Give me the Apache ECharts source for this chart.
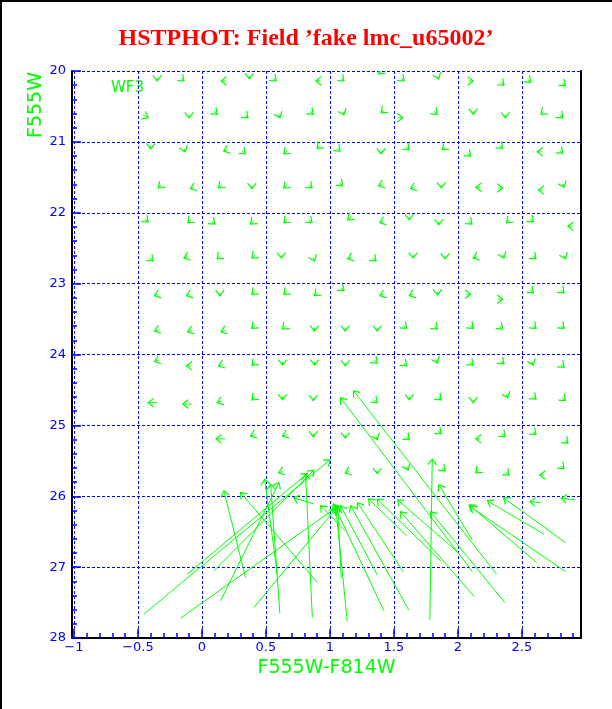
<!DOCTYPE html>
<html><head><meta charset="utf-8">
<script src="https://cdn.jsdelivr.net/npm/echarts@6/dist/echarts.min.js"></script>
<style>html,body{margin:0;padding:0;background:#fff}#c{width:612px;height:709px}</style>
</head><body><div id="c"></div>
<script>
const titleText = "HSTPHOT: Field \u2019fake lmc_u65002\u2019";
const xName = "F555W-F814W";
const yName = "F555W";
const chipLabel = "WF3";
const xMajorTicks = [-1, -0.5, 0, 0.5, 1, 1.5, 2, 2.5];
const xMinorTicks = [-0.9,-0.8,-0.7,-0.6,-0.4,-0.3,-0.2,-0.1,0.1,0.2,0.3,0.4,0.6,0.7,0.8,0.9,1.1,1.2,1.3,1.4,1.6,1.7,1.8,1.9,2.1,2.2,2.3,2.4,2.6,2.7,2.8,2.9];
const yTicks = [20, 21, 22, 23, 24, 25, 26, 27, 28];

// small vectors: position (tip), displacement (dx, dy) in data units
const smallX = [
 -0.35,-0.14,0.15,0.37,0.58,0.89,1.11,1.38,1.58,1.85,2.12,2.36,2.57,2.84,
 -0.42,-0.10,0.12,0.36,0.61,0.87,1.11,1.40,1.57,1.84,2.12,2.37,2.65,2.82,
 -0.40,-0.13,0.17,0.34,0.64,0.90,1.08,1.40,1.62,1.88,2.10,2.35,2.62,2.82,
 -0.34,-0.09,0.13,0.39,0.64,0.86,1.10,1.38,1.63,1.87,2.14,2.35,2.63,2.83,
 -0.42,-0.11,0.10,0.38,0.64,0.86,1.14,1.39,1.62,1.85,2.11,2.38,2.59,2.86,
 -0.38,-0.14,0.12,0.39,0.62,0.88,1.14,1.36,1.65,1.90,2.12,2.36,2.61,2.84,
 -0.37,-0.12,0.14,0.39,0.64,0.88,1.11,1.39,1.62,1.84,2.10,2.35,2.59,2.83,
 -0.37,-0.11,0.15,0.39,0.63,0.88,1.12,1.37,1.60,1.84,2.12,2.35,2.61,2.83,
 -0.37,-0.12,0.13,0.39,0.63,0.88,1.12,1.37,1.60,1.84,2.12,2.36,2.59,2.83,
 -0.42,-0.15,0.12,0.39,0.63,0.87,1.37,1.62,1.87,2.12,2.39,2.61,2.84,
 0.11,0.38,0.63,0.87,1.12,1.37,1.62,1.87,2.14,2.37,2.61,2.86,
 0.60,1.12,1.37,1.61,1.90,2.14,2.40,2.64,2.83
];
const smallY = [
 20.14,20.14,20.14,20.11,20.14,20.14,20.14,20.04,20.14,20.11,20.14,20.20,20.16,20.21,
 20.66,20.66,20.61,20.66,20.66,20.61,20.62,20.59,20.66,20.61,20.61,20.66,20.61,20.66,
 21.10,21.14,21.13,21.17,21.17,21.09,21.13,21.17,21.11,21.11,21.20,21.09,21.14,21.16,
 21.65,21.66,21.65,21.66,21.65,21.65,21.62,21.62,21.66,21.65,21.64,21.65,21.68,21.64,
 22.13,22.14,22.16,22.16,22.14,22.14,22.10,22.14,22.10,22.17,22.16,22.14,22.13,22.19,
 22.68,22.64,22.65,22.64,22.64,22.68,22.65,22.68,22.64,22.65,22.64,22.64,22.65,22.65,
 23.17,23.17,23.17,23.15,23.15,23.17,23.10,23.17,23.17,23.16,23.15,23.22,23.13,23.13,
 23.67,23.68,23.68,23.63,23.64,23.67,23.67,23.67,23.63,23.64,23.63,23.64,23.63,23.63,
 24.10,24.16,24.16,24.15,24.15,24.15,24.16,24.12,24.16,24.12,24.15,24.13,24.15,24.18,
 24.68,24.70,24.68,24.64,24.64,24.65,24.68,24.64,24.64,24.68,24.61,24.63,24.65,
 25.19,25.15,25.15,25.16,25.18,25.20,25.20,25.12,25.19,25.16,25.13,25.25,
 25.67,25.67,25.68,25.63,25.64,25.67,25.70,25.70,25.61
];
const smallDX = [
 0,0.025,-0.035,0,0.025,-0.035,0.025,-0.025,0.025,0.01,0.035,0.025,0.025,0.025,
 0.04,0,0.025,0.025,0.01,0.025,0.01,-0.025,0.035,0.025,0,0,-0.025,0.025,
 0,0.01,-0.03,0.025,-0.025,-0.025,0.025,0,0.025,-0.025,0.025,0.025,-0.035,0.025,
 -0.025,-0.03,-0.025,0,-0.025,0.025,0.025,-0.03,-0.03,0,-0.035,0.035,-0.035,0.01,
 0.025,-0.025,0.025,-0.025,-0.025,0.025,-0.025,-0.03,0,0,0.025,-0.025,0.025,-0.035,
 0.025,-0.03,-0.025,-0.025,0,0.01,-0.03,0.025,0,0,-0.03,0.01,0.025,0.01,
 -0.03,-0.03,0,-0.025,-0.025,-0.025,0.025,-0.03,-0.03,0,0.035,0.035,0.025,0.025,
 -0.03,-0.03,-0.03,-0.025,-0.025,0,0,0,0.025,0.025,0.025,0.025,0.025,0.025,
 -0.03,-0.035,-0.03,-0.025,0,0,0,0.025,0.025,0.01,0.025,0.025,0.01,0.025,
 -0.07,-0.07,-0.03,-0.025,0,0,0.025,0,0.025,0,0.01,0.025,0.025,
 -0.07,-0.03,-0.03,0,0,0.01,0.025,0.025,-0.035,0.025,0.025,0.025,
 -0.03,-0.03,0,0.01,0.025,-0.025,0.025,-0.035,0.025
];
const smallDY = [
 0.045,0.04,0,0.045,0.04,0,0.04,0.04,0.04,0.045,0,0.04,0.04,0.04,
 0.04,0.045,0.04,0.04,0.045,0.04,0.045,0.04,0,0.04,0.045,0.045,0.04,0.04,
 0.045,0.045,0.02,0.04,0.04,0.04,0.04,0.045,0.04,0.04,0.04,0.04,0,0.04,
 0.04,0.02,0.04,0.045,0.04,0.04,0.04,0.02,0.02,0.045,0,0,0,0.045,
 0.04,0.04,0.04,0.04,0.04,0.04,0.04,0.02,0.045,0.045,0.04,0.04,0.04,0,
 0.04,0.02,0.04,0.04,0.045,0.045,0.02,0.04,0.045,0.045,0.02,0.045,0.04,0.045,
 0.02,0.02,0.045,0.04,0.04,0.04,0.04,0.02,0.02,0.045,0,0,0.04,0.04,
 0.02,0.02,0.02,0.04,0.04,0.045,0.045,0.045,0.04,0.04,0.04,0.04,0.04,0.04,
 0.02,0,0.02,0.04,0.045,0.045,0.045,0.04,0.04,0.045,0.04,0.04,0.045,0.04,
 0,0,0.02,0.04,0.045,0.045,0.04,0.045,0.04,0.045,0.045,0.04,0.04,
 0,0.02,0.02,0.045,0.045,0.045,0.04,0.04,0,0.04,0.04,0.04,
 0.02,0.02,0.045,0.045,0.04,0.04,0.04,0,0.04
];

// long vectors: tail (x0,y0) -> tip (x1,y1)
const longX0 = [-0.453,-0.166,-0.114,0.094,0.146,0.341,0.902,0.609,0.863,0.406,0.589,0.873,2.113,2.302,1.781,1.136,1.089,1.422,1.617,1.370,1.573,1.599,2.005,2.130,2.367,2.615,2.672,2.841,2.841,2.646,2.920,2.113,1.865,1.120];
const longY0 = [27.663,27.719,27.099,27.052,27.475,27.147,27.217,27.649,27.711,27.570,27.099,26.107,27.062,27.099,27.748,27.767,27.147,27.616,27.607,27.109,27.062,26.558,26.798,27.419,27.499,26.935,26.535,26.653,27.062,26.089,26.051,26.619,26.911,26.488];
const longX1 = [1.000,1.068,0.823,0.875,0.602,0.172,0.302,0.537,0.810,1.045,0.490,0.716,1.084,1.185,1.800,1.045,1.061,1.029,1.162,1.084,1.216,1.302,1.529,1.552,1.787,2.088,2.232,2.357,2.098,2.563,2.808,1.852,1.370,0.927];
const longY1 = [25.487,26.135,25.680,25.632,25.807,25.924,25.948,25.829,25.688,26.178,25.759,26.023,24.612,24.513,25.477,26.135,26.164,26.107,26.135,26.135,26.093,26.037,26.051,26.220,26.220,26.121,26.065,26.023,26.148,26.075,26.027,25.839,26.041,26.135];

const GREEN = '#00ff00', BLUE = '#0000ff';
const smallData = smallX.map((x, i) => [x, smallY[i], smallDX[i], smallDY[i]]);
const longData = longX0.map((x, i) => [x, longY0[i], longX1[i], longY1[i]]);

function arrowShape(p0, p1) {
  let a = Math.atan2(p1[1] - p0[1], p1[0] - p0[0]);
  const L = 7, h = 38 * Math.PI / 180;
  const w1 = [p1[0] - L * Math.cos(a - h), p1[1] - L * Math.sin(a - h)];
  const w2 = [p1[0] - L * Math.cos(a + h), p1[1] - L * Math.sin(a + h)];
  return {
    type: 'group',
    children: [
      {type: 'line', shape: {x1: p0[0], y1: p0[1], x2: p1[0], y2: p1[1]}, style: {stroke: GREEN, lineWidth: 1}},
      {type: 'polyline', shape: {points: [w1, p1, w2]}, style: {stroke: GREEN, lineWidth: 1.2, fill: null}}
    ]
  };
}

const chart = echarts.init(document.getElementById('c'), null, {renderer: 'canvas'});
const option = {
  animation: false,
  backgroundColor: '#ffffff',
  title: {
    text: titleText, left: 'center', top: 22,
    textStyle: {fontFamily: 'Liberation Serif', fontWeight: 'bold', fontSize: 24, color: '#ff0000'}
  },
  grid: {left: 72, right: 31, top: 71, bottom: 71},
  xAxis: [
    {
      type: 'value', min: -1.015, max: 2.962, position: 'bottom',
      name: xName, nameLocation: 'middle', nameGap: 18,
      nameTextStyle: {color: GREEN, fontSize: 19, fontFamily: 'DejaVu Sans'},
      axisLine: {show: true, onZero: false, lineStyle: {color: '#000', width: 2}},
      axisTick: {show: true, inside: true, length: 9, customValues: xMajorTicks, lineStyle: {color: BLUE, width: 1.5}},
      axisLabel: {customValues: xMajorTicks, color: BLUE, fontSize: 13, fontFamily: 'DejaVu Sans', margin: 3,
        formatter: v => String(v).replace('-', '\u2212')},
      splitLine: {show: true, lineStyle: {color: BLUE, type: [3, 2], width: 1}}
    },
    {
      type: 'value', min: -1.015, max: 2.962, position: 'bottom',
      axisLine: {show: false},
      axisTick: {show: true, inside: true, length: 5, customValues: xMinorTicks, lineStyle: {color: BLUE, width: 1.5}},
      axisLabel: {show: false}, splitLine: {show: false}
    }
  ],
  yAxis: [
    {
      type: 'value', inverse: true, min: 20, max: 28, interval: 1, position: 'left',
      axisLine: {show: true, onZero: false, lineStyle: {color: '#000', width: 2}},
      axisTick: {show: true, inside: true, length: 9, customValues: yTicks, lineStyle: {color: BLUE, width: 1.5}},
      minorTick: {show: true, splitNumber: 5, length: 5, lineStyle: {color: BLUE, width: 1.5}},
      axisLabel: {customValues: yTicks, color: BLUE, fontSize: 13, fontFamily: 'DejaVu Sans', margin: 6},
      splitLine: {show: true, lineStyle: {color: BLUE, type: [3, 2], width: 1}}
    },
    {
      type: 'value', inverse: true, min: 20, max: 28, position: 'right',
      axisLine: {show: true, onZero: false, lineStyle: {color: '#000', width: 2}},
      axisTick: {show: false}, axisLabel: {show: false}, splitLine: {show: false}
    }
  ],
  graphic: [
    {type: 'line', shape: {x1: 1, y1: 0, x2: 1, y2: 709}, style: {stroke: '#000', lineWidth: 2}},
    {type: 'line', shape: {x1: 0, y1: 1, x2: 612, y2: 1}, style: {stroke: '#000', lineWidth: 2}},
    {type: 'text', x: 36, y: 105, rotation: Math.PI / 2,
      style: {text: yName, fill: GREEN, font: '19px "DejaVu Sans"', textAlign: 'center', textVerticalAlign: 'middle'}},
    {type: 'text', x: 111, y: 88,
      style: {text: chipLabel, fill: GREEN, font: '15px "DejaVu Sans"', textAlign: 'left', textVerticalAlign: 'middle'}}
  ],
  series: [
    {
      type: 'custom', coordinateSystem: 'cartesian2d', xAxisIndex: 0, yAxisIndex: 0,
      data: smallData, encode: {x: 0, y: 1}, silent: true, clip: true,
      renderItem: (params, api) => {
        const x = api.value(0), y = api.value(1), dx = api.value(2), dy = api.value(3);
        return arrowShape(api.coord([x - dx, y - dy]), api.coord([x, y]));
      }
    },
    {
      type: 'custom', coordinateSystem: 'cartesian2d', xAxisIndex: 0, yAxisIndex: 0,
      data: longData, encode: {x: [0, 2], y: [1, 3]}, silent: true, clip: true,
      renderItem: (params, api) => arrowShape(api.coord([api.value(0), api.value(1)]), api.coord([api.value(2), api.value(3)]))
    }
  ]
};
chart.setOption(option);
</script></body></html>
